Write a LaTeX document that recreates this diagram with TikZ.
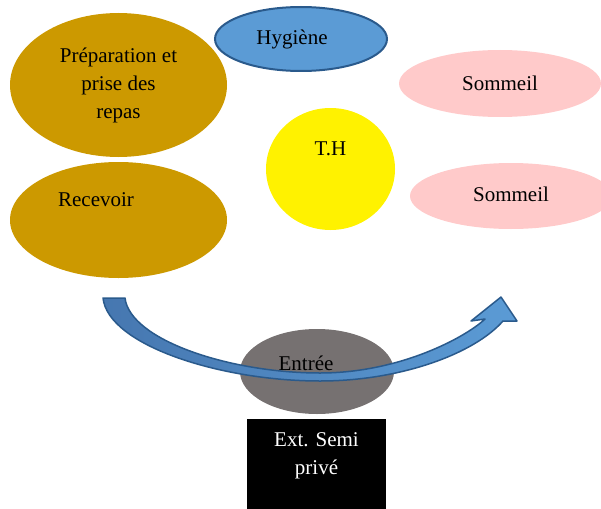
\documentclass[tikz,border=0pt]{standalone}
\usepackage{fontspec}
\setmainfont{Liberation Serif}
\usetikzlibrary{shapes.geometric,positioning}

\definecolor{gold}{HTML}{CC9900}
\definecolor{skyblue}{HTML}{5B9BD5}
\definecolor{navy}{HTML}{2A5A8C}
\definecolor{rose}{HTML}{FFCACA}
\definecolor{stone}{HTML}{767171}
\definecolor{steel}{HTML}{4677B0}

\begin{document}
\begin{tikzpicture}[x=1pt,y=-1pt]
\tikzset{blob/.style={ellipse,inner sep=0pt},
  txt/.style={font=\fontsize{21}{28}\selectfont,align=center,inner sep=0pt}}
\clip (0,0) rectangle (601,508);
% left column
\node[blob,fill=gold,minimum width=217,minimum height=144] (prep) at (118.5,85) {};
\node[txt] (preptxt) at (prep) {Préparation et\\prise des\\repas};
\node[blob,fill=gold,minimum width=217,minimum height=116] (recv) at (118.5,220) {};
\node[txt,xshift=-22.5pt,yshift=20pt] (recvtxt) at (recv) {Recevoir};
% middle
\node[blob,fill=skyblue,draw=navy,line width=2pt,minimum width=172,minimum height=64] (hyg) at (301,39) {};
\node[txt,xshift=-9pt] (hygtxt) at (hyg) {Hygiène};
\node[blob,fill=yellow,minimum width=129,minimum height=122] (th) at (330.5,169) {};
\node[txt,yshift=20pt] (thtxt) at (th) {T.H};
% right column
\node[blob,fill=rose,minimum width=202,minimum height=67] (somA) at (500,83.5) {};
\node[txt] (somAtxt) at (somA) {Sommeil};
\node[blob,fill=rose,minimum width=202,minimum height=66] (somB) at (511,196) {};
\node[txt,yshift=2pt] (somBtxt) at (somB) {Sommeil};
% entry and the curved arrow over it
\node[blob,fill=stone,minimum width=154,minimum height=85] (entree) at (317,371.5) {};
\draw[draw=navy,line width=1.5pt,line join=round,left color=steel,right color=skyblue]
  (103,298) .. controls (108,345) and (220,381) .. (320,381)
  .. controls (400,381) and (474,354) .. (503,321)
  -- (517,321) -- (501,297) -- (471,321) -- (485,319)
  .. controls (466,337) and (400,373) .. (320,373)
  .. controls (230,373) and (130,340) .. (125,298) -- cycle;
\node[txt,xshift=-11pt,yshift=8.5pt] (entreetxt) at (entree) {Entrée};
\node[fill=black,minimum width=139,minimum height=93,inner sep=0pt] (ext) at (316.5,465.5) {};
\node[txt,text=white,yshift=9.5pt] (exttxt) at (ext) {Ext. Semi\\privé};
\end{tikzpicture}
\end{document}
